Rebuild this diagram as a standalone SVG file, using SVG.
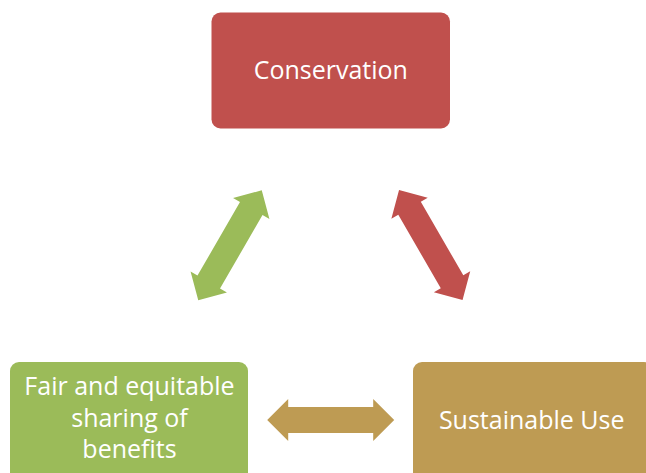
<svg xmlns="http://www.w3.org/2000/svg" width="646" height="473" viewBox="0 0 646 473">
  <style>
    .box { stroke: none; }
    .label { font-family: "Open Sans", "Liberation Sans", sans-serif; font-size: 25px; fill: #FFFFFF; text-anchor: middle; }
  </style>
  <defs>
    <!-- double-headed block arrow, centred on the origin, pointing along x -->
    <path id="dbl-arrow" d="M -63.5 0 L -42.5 -21 L -42.5 -13 L 42.5 -13 L 42.5 -21 L 63.5 0 L 42.5 21 L 42.5 13 L -42.5 13 L -42.5 21 Z"/>
  </defs>
  <rect width="646" height="473" fill="#FFFFFF"/>

  <g id="connectors">
    <use href="#dbl-arrow" fill="#9BBB59" transform="translate(230,245.3) rotate(-60)"/>
    <use href="#dbl-arrow" fill="#C0504D" transform="translate(430.8,245) rotate(60)"/>
    <use href="#dbl-arrow" fill="#BE9B53" transform="translate(330.7,420)"/>
  </g>

  <g id="node-conservation">
    <rect class="box" x="211.5" y="12.5" width="238.5" height="116" rx="9" fill="#C0504D"/>
    <text class="label" x="330.8" y="79">Conservation</text>
  </g>

  <g id="node-sharing">
    <rect class="box" x="10" y="362" width="238" height="120" rx="9" fill="#9BBB59"/>
    <text class="label" x="129.5" y="395">Fair and equitable</text>
    <text class="label" x="129.5" y="426.5">sharing of</text>
    <text class="label" x="129.5" y="458">benefits</text>
  </g>

  <g id="node-sustainable-use">
    <rect class="box" x="413" y="362" width="240" height="120" rx="9" fill="#BE9B53"/>
    <text class="label" x="531.7" y="429">Sustainable Use</text>
  </g>
</svg>
